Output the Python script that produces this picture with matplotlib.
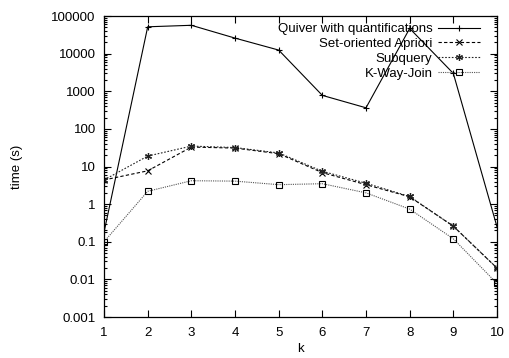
import matplotlib
matplotlib.use("Agg")
import matplotlib.pyplot as plt
from matplotlib.ticker import LogLocator, NullFormatter

plt.rcParams['font.family'] = ['Liberation Sans', 'DejaVu Sans']

k = [1, 2, 3, 4, 5, 6, 7, 8, 9, 10]
quiver = [0.18, 52000, 57000, 26000, 12500, 780, 365, 47000, 3000, 0.25]
apriori = [4.4, 7.7, 33, 31, 22, 6.9, 3.3, 1.57, 0.26, 0.02]
subquery = [4.4, 19, 35, 32, 23, 7.5, 3.6, 1.6, 0.26, 0.02]
kwayjoin = [0.1, 2.2, 4.2, 4.1, 3.3, 3.5, 2.0, 0.74, 0.12, 0.0078]
ytick_vals = [0.001, 0.01, 0.1, 1, 10, 100, 1000, 10000, 100000]
ytick_labels = ['0.001', '0.01', '0.1', '1', '10', '100', '1000', '10000', '100000']

fig = plt.figure(figsize=(5.10, 3.58), dpi=100)
ax = fig.add_axes([0.204, 0.1145, 0.7705, 0.8405])

lw = 0.8
ax.plot(k, quiver, color='black', lw=lw, ls='-', marker='+', ms=5, mew=0.8,
        label='Quiver with quantifications')
ax.plot(k, apriori, color='black', lw=lw, ls=(0, (3, 2)), marker='x', ms=4, mew=0.8,
        label='Set-oriented Apriori')
ax.plot(k, subquery, color='#222222', lw=lw, ls=(0, (1.5, 1.5)), marker=(6, 2, 0), ms=5, mew=0.9,
        label='Subquery')
ax.plot(k, kwayjoin, color='#555555', lw=lw, ls=(0, (1, 1)), marker='s', ms=4, mew=0.8,
        mfc='none', mec='black', label='K-Way-Join')

ax.set_yscale('log')
ax.set_xlim(1, 10)
ax.set_ylim(0.001, 100000)
ax.set_xticks(k)
ax.set_yticks(ytick_vals)
ax.set_yticklabels(ytick_labels)
ax.yaxis.set_minor_locator(LogLocator(base=10, subs=[2, 3, 4, 5, 6, 7, 8, 9], numticks=20))
ax.yaxis.set_minor_formatter(NullFormatter())
ax.tick_params(which='both', direction='in', top=True, right=True, labelsize=9.5, width=0.8)
ax.tick_params(which='major', length=5)
ax.tick_params(which='minor', length=2.5)
ax.tick_params(axis='y', which='major', pad=6)
ax.tick_params(axis='x', which='major', pad=7)
for s in ax.spines.values():
    s.set_linewidth(0.9)

ax.set_xlabel('k', fontsize=9.5)
ax.set_ylabel('time (s)', fontsize=9.5)
ax.yaxis.set_label_coords(-0.206, 0.5)
ax.xaxis.set_label_coords(0.5, -0.085)

leg = ax.legend(loc='upper right', bbox_to_anchor=(0.97, 0.995), frameon=False,
                markerfirst=False, fontsize=9.5,
                handlelength=3.2, labelspacing=0.2, borderaxespad=0.0, handletextpad=0.4)

fig.savefig('out.png', dpi=100)
